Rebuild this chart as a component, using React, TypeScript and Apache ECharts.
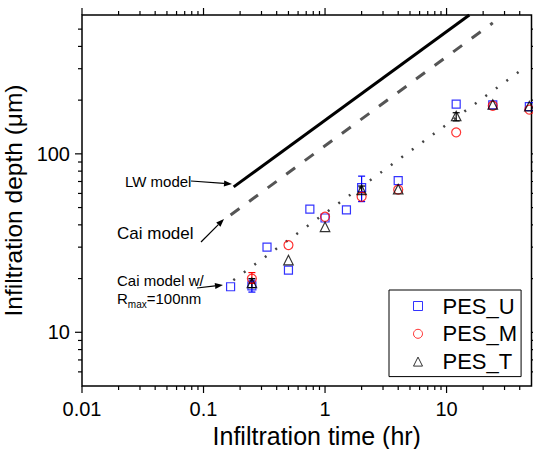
import React, { useEffect, useRef } from 'react';
import * as echarts from 'echarts';

// ---- data ----
const times = [0.167, 0.25, 0.333, 0.5, 0.75, 1, 1.5, 2, 4, 12, 24, 48];
const pesU: (number | null)[] = [18, 18.2, 30, 22.3, 49, 43.7, 48.5, 64.7, 70.8, 190, 188, 184];
const pesM: (number | null)[] = [null, 20, null, 30.8, null, 44.4, null, 57.5, 63, 132, 186, 177];
const pesT: (number | null)[] = [null, 18.9, null, 25.4, null, 39, null, 62.8, 63.4, 163, 189, 185];

// error bars: [time, low, high]
const errU = [[0.25, 16.8, 19.6], [2, 54, 75]];
const errM = [[0.25, 18.8, 21.6]];
const errT = [[0.25, 17.8, 20], [2, 60.5, 66], [12, 153, 170]];

// model curves: [time, depth]
const lwModel = [[0.177, 65.3], [15.4, 600]];
const caiModel = [[0.167, 45.4], [24, 542]];
const caiRmax = [[0.176, 19.6], [40.4, 292]];

const xMajor = [0.01, 0.1, 1, 10];
const xLabels = ['0.01', '0.1', '1', '10'];
const xMinor = [0.02, 0.03, 0.04, 0.05, 0.06, 0.07, 0.08, 0.09, 0.2, 0.3, 0.4, 0.5, 0.6, 0.7, 0.8, 0.9, 2, 3, 4, 5, 6, 7, 8, 9, 20, 30, 40];
const yMajor = [10, 100];
const yLabels = ['10', '100'];
const yMinor = [6, 7, 8, 9, 20, 30, 40, 50, 60, 70, 80, 90, 200, 300, 400, 500];

const X_MIN = 0.01, X_MAX = 50, Y_MIN = 5, Y_MAX = 600;
const FONT = '"Liberation Sans", Arial, Helvetica, sans-serif';

const pairs = (vals: (number | null)[]) =>
  times.map((t, i) => (vals[i] == null ? null : [t, vals[i] as number])).filter(Boolean) as number[][];

const sameLog = (a: number, b: number) => Math.abs(Math.log10(a) - Math.log10(b)) < 1e-6;

function tickSeries(vals: number[], side: 'x' | 'y', len: number) {
  return {
    type: 'custom',
    silent: true,
    z: 10,
    clip: false,
    data: vals.map(v => (side === 'x' ? [v, 10] : [1, v])),
    renderItem: (_p: any, api: any) => {
      const st = { stroke: '#000', lineWidth: 1.2 };
      if (side === 'x') {
        const v = api.value(0);
        const b = api.coord([v, Y_MIN]);
        const t = api.coord([v, Y_MAX]);
        return {
          type: 'group',
          children: [
            { type: 'line', shape: { x1: b[0], y1: b[1], x2: b[0], y2: b[1] + len }, style: st },
            { type: 'line', shape: { x1: t[0], y1: t[1], x2: t[0], y2: t[1] - len }, style: st },
          ],
        };
      }
      const v = api.value(1);
      const l = api.coord([X_MIN, v]);
      const r = api.coord([X_MAX, v]);
      return {
        type: 'group',
        children: [
          { type: 'line', shape: { x1: l[0], y1: l[1], x2: l[0] - len, y2: l[1] }, style: st },
          { type: 'line', shape: { x1: r[0], y1: r[1], x2: r[0] + len, y2: r[1] }, style: st },
        ],
      };
    },
  };
}

function errSeries(data: number[][], color: string) {
  return {
    type: 'custom',
    silent: true,
    z: 3,
    data,
    encode: { x: 0, y: [1, 2] },
    renderItem: (_p: any, api: any) => {
      const x = api.value(0);
      const lo = api.coord([x, api.value(1)]);
      const hi = api.coord([x, api.value(2)]);
      const st = { stroke: color, lineWidth: 1.2 };
      const w = 3.5;
      return {
        type: 'group',
        children: [
          { type: 'line', shape: { x1: lo[0], y1: lo[1], x2: hi[0], y2: hi[1] }, style: st },
          { type: 'line', shape: { x1: lo[0] - w, y1: lo[1], x2: lo[0] + w, y2: lo[1] }, style: st },
          { type: 'line', shape: { x1: hi[0] - w, y1: hi[1], x2: hi[0] + w, y2: hi[1] }, style: st },
        ],
      };
    },
  };
}

function arrow(x1: number, y1: number, x2: number, y2: number) {
  const dx = x2 - x1, dy = y2 - y1;
  const L = Math.sqrt(dx * dx + dy * dy);
  const ux = dx / L, uy = dy / L;
  const hl = 8, hw = 3;
  const bx = x2 - ux * hl, by = y2 - uy * hl;
  return [
    { type: 'line', shape: { x1, y1, x2: bx, y2: by }, style: { stroke: '#000', lineWidth: 1.2 }, z: 20 },
    {
      type: 'polygon',
      shape: { points: [[x2, y2], [bx - uy * hw, by + ux * hw], [bx + uy * hw, by - ux * hw]] },
      style: { fill: '#000' },
      z: 20,
    },
  ];
}

export default function App() {
  const ref = useRef<HTMLDivElement>(null);
  useEffect(() => {
    if (!ref.current) return;
    const chart = echarts.init(ref.current, undefined, { renderer: 'svg' });
    const scatterBase = {
      type: 'scatter',
      z: 4,
      itemStyle: { color: 'rgba(0,0,0,0)', borderWidth: 1.2 },
    };
    chart.setOption({
      animation: false,
      backgroundColor: '#fff',
      textStyle: { fontFamily: FONT },
      grid: {
        left: 82, right: 1.5, top: 15, bottom: 63,
        containLabel: false, outerBoundsMode: 'none',
        show: true, borderColor: '#000', borderWidth: 1.5, backgroundColor: 'transparent',
      },
      xAxis: {
        type: 'log', logBase: 10, min: X_MIN, max: X_MAX,
        name: 'Infiltration time (hr)', nameLocation: 'middle', nameGap: 35,
        nameTextStyle: { fontSize: 25, lineHeight: 25, color: '#000', fontFamily: FONT, padding: [0, 0, 0, 20] },
        axisLine: { show: false }, axisTick: { show: false }, splitLine: { show: false },
        axisLabel: {
          fontSize: 20, color: '#000', margin: 13, fontFamily: FONT,
          showMinLabel: true, showMaxLabel: false,
          formatter: (v: number) => {
            const i = xMajor.findIndex(t => sameLog(t, v));
            return i >= 0 ? xLabels[i] : '';
          },
        },
      },
      yAxis: {
        type: 'log', logBase: 10, min: Y_MIN, max: Y_MAX,
        name: 'Infiltration depth (μm)', nameLocation: 'middle', nameGap: 48,
        nameTextStyle: { fontSize: 24.5, color: '#000', fontFamily: FONT },
        axisLine: { show: false }, axisTick: { show: false }, splitLine: { show: false },
        axisLabel: {
          fontSize: 20, color: '#000', margin: 12, fontFamily: FONT,
          formatter: (v: number) => {
            const i = yMajor.findIndex(t => sameLog(t, v));
            return i >= 0 ? yLabels[i] : '';
          },
        },
      },
      legend: {
        orient: 'vertical', left: 389, top: 290,
        borderColor: '#000', borderWidth: 1, backgroundColor: '#fff',
        padding: [5, 4, 4, 24], itemGap: 5.8, itemWidth: 9, itemHeight: 9,
        itemStyle: { borderWidth: 1 },
        textStyle: { fontSize: 22, color: '#000', fontFamily: FONT, lineHeight: 22, padding: [0, 0, 0, 15] },
        data: ['PES_U', 'PES_M', 'PES_T'],
      },
      graphic: [
        { type: 'text', x: 125, y: 181, z: 20, style: { text: 'LW model', font: `15px ${FONT}`, fill: '#000', verticalAlign: 'middle' } },
        { type: 'text', x: 117, y: 233, z: 20, style: { text: 'Cai model', font: `17px ${FONT}`, fill: '#000', verticalAlign: 'middle' } },
        { type: 'text', x: 117, y: 280.5, z: 20, style: { text: 'Cai model w/', font: `15px ${FONT}`, fill: '#000', verticalAlign: 'middle' } },
        {
          type: 'text', x: 117, y: 298, z: 20,
          style: {
            text: '{a|R}{b|max}{a|=100nm}', verticalAlign: 'middle', fill: '#000',
            rich: {
              a: { fontSize: 15, fontFamily: FONT, fill: '#000' },
              b: { fontSize: 10, fontFamily: FONT, fill: '#000', padding: [13, 0, 0, 0] },
            },
          },
        },
        ...arrow(191, 181, 232, 184),
        ...arrow(201, 242, 224, 219),
        ...arrow(197, 288, 223, 285),
      ],
      series: [
        {
          name: 'LW model', type: 'line', data: lwModel, showSymbol: false, symbol: 'none', z: 2,
          lineStyle: { color: '#000', width: 3 }, silent: true,
        },
        {
          name: 'Cai model', type: 'line', data: caiModel, showSymbol: false, symbol: 'none', z: 2,
          lineStyle: { color: '#555', width: 3, type: [11, 12] }, silent: true,
        },
        {
          name: 'Cai model w/ Rmax=100nm', type: 'line', data: caiRmax, showSymbol: false, symbol: 'none', z: 2,
          lineStyle: { color: '#444', width: 2.5, type: [2, 11] }, silent: true,
        },
        errSeries(errU, '#0000ff'),
        errSeries(errM, '#ff0000'),
        errSeries(errT, '#000'),
        { ...scatterBase, name: 'PES_U', data: pairs(pesU), symbol: 'rect', symbolSize: 8, itemStyle: { ...scatterBase.itemStyle, borderColor: '#0000ff' } },
        { ...scatterBase, name: 'PES_M', data: pairs(pesM), symbol: 'circle', symbolSize: 9, itemStyle: { ...scatterBase.itemStyle, borderColor: '#ff0000' } },
        { ...scatterBase, name: 'PES_T', data: pairs(pesT), symbol: 'triangle', symbolSize: 9.5, itemStyle: { ...scatterBase.itemStyle, borderColor: '#000' } },
        tickSeries(xMajor, 'x', 7),
        tickSeries(xMinor, 'x', 4),
        tickSeries(yMajor, 'y', 7),
        tickSeries(yMinor, 'y', 4),
      ],
    });
    return () => chart.dispose();
  }, []);
  return (
    <div
      ref={ref}
      style={{ position: 'fixed', left: 0, top: 0, width: 533, height: 449, background: '#fff' }}
    />
  );
}
